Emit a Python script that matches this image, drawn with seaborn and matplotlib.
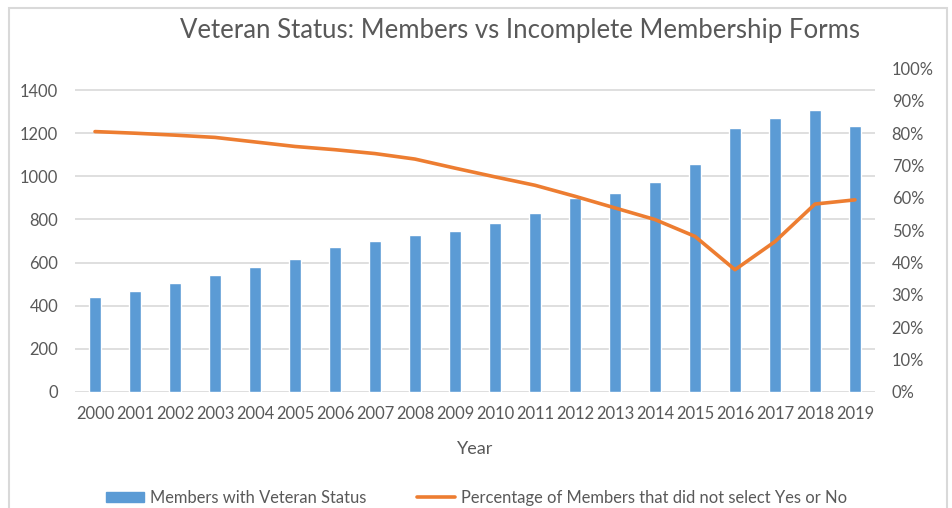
import numpy as np
import pandas as pd
import matplotlib
matplotlib.use("Agg")
import matplotlib.pyplot as plt
import seaborn as sns
from matplotlib.patches import Rectangle
from matplotlib.lines import Line2D

years = [str(y) for y in range(2000, 2020)]
members = [440, 468, 505, 542, 580, 617, 674, 702, 730, 748,
           785, 831, 898, 924, 972, 1056, 1222, 1269, 1307, 1233]
pct_missing = [0.805, 0.800, 0.794, 0.787, 0.773, 0.759, 0.749, 0.737, 0.720, 0.692,
               0.665, 0.639, 0.605, 0.569, 0.533, 0.481, 0.378, 0.465, 0.581, 0.594]
left_ticks = [0, 200, 400, 600, 800, 1000, 1200, 1400]
right_ticks = [0, 0.1, 0.2, 0.3, 0.4, 0.5, 0.6, 0.7, 0.8, 0.9, 1.0]

sns.set_theme(style="white")
plt.rcParams['font.family'] = ['Lato', 'DejaVu Sans']

TXT = "#595959"
GRID = "#d9d9d9"
BLUE = "#5b9bd5"
ORANGE = "#ed7d31"
FS = 11.9

df = pd.DataFrame({"Year": years, "Members": members,
                   "Pct": pct_missing, "pos": np.arange(len(years))})

fig = plt.figure(figsize=(9.53, 5.08), dpi=100)
ax = fig.add_axes([75/953, 1-392/508, 800/953, (392-68.5)/508])

sns.barplot(data=df, x="Year", y="Members", color=BLUE, width=0.3,
            saturation=1, ax=ax, zorder=2)
ax.set_ylim(0, 1500)
ax.set_xlim(-0.5, len(years)-0.5)
ax.set_yticks(left_ticks)
ax.set_yticklabels([str(t) for t in left_ticks])
for t in left_ticks:
    ax.axhline(t, color=GRID, lw=1.2, zorder=0)
for s in ax.spines.values():
    s.set_visible(False)
ax.tick_params(axis='y', length=0, pad=12, labelsize=FS, labelcolor=TXT)
ax.tick_params(axis='x', length=0, pad=10, labelsize=FS, labelcolor=TXT)
ax.set_ylabel("")
ax.set_xlabel("Year", fontsize=13, color=TXT, labelpad=14)

ax2 = ax.twinx()
sns.lineplot(data=df, x="pos", y="Pct", color=ORANGE, lw=2.6, ax=ax2,
             solid_capstyle="round")
ax2.set_ylim(0, 1.0)
ax2.set_xlim(-0.5, len(years)-0.5)
ax2.set_yticks(right_ticks)
ax2.set_yticklabels([f"{int(round(t*100))}%" for t in right_ticks])
ax2.set_ylabel("")
for s in ax2.spines.values():
    s.set_visible(False)
ax2.tick_params(axis='y', length=0, pad=12, labelsize=FS, labelcolor=TXT)
ax2.grid(False)

fig.text(0.546, 0.94, "Veteran Status: Members vs Incomplete Membership Forms",
         ha="center", va="center", fontsize=18.5, color=TXT)

# chart border
fig.add_artist(Rectangle((9/953, -0.05), (947-9)/953, 1.05 - 8/508,
                         transform=fig.transFigure, fill=False,
                         edgecolor=GRID, lw=1.5))

handles = [Rectangle((0, 0), 1, 1, color=BLUE),
           Line2D([0], [0], color=ORANGE, lw=2.6)]
labels = ["Members with Veteran Status",
          "Percentage of Members that did not select Yes or No"]
fig.legend(handles, labels, loc="center", bbox_to_anchor=(0.5, 1-498/508),
           ncol=2, frameon=False, fontsize=FS, labelcolor=TXT,
           columnspacing=3.1, handlelength=2.3, handletextpad=0.35,
           handleheight=0.6)

fig.savefig("out.png", dpi=100)
